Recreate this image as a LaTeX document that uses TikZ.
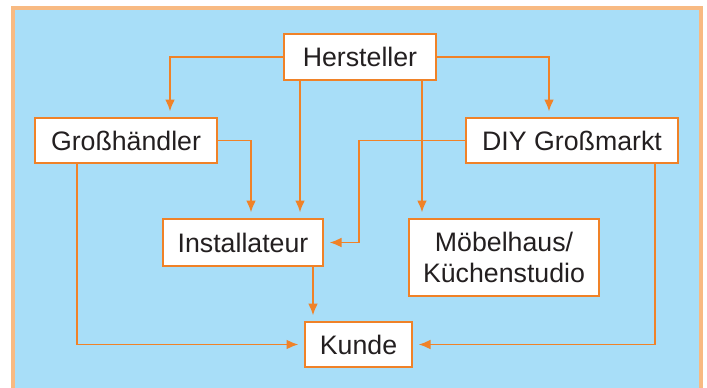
\documentclass[tikz,border=0pt]{standalone}
\usepackage{fontspec}
\setmainfont{Liberation Sans}
\usetikzlibrary{arrows.meta,positioning}

\definecolor{skyblue}{RGB}{168,222,248}
\definecolor{frameorange}{RGB}{248,186,130}
\definecolor{lineorange}{RGB}{240,130,40}
\definecolor{textgray}{RGB}{35,31,32}

\tikzset{
  box/.style={draw=lineorange, line width=1.3pt, fill=white, inner sep=0pt,
    align=center, text=textgray, font=\fontsize{19}{22}\selectfont},
  link/.style={draw=lineorange, line width=1.3pt, shorten >=4pt,
    -{Latex[length=8.5pt,width=7pt]}}
}

\begin{document}
\begin{tikzpicture}[x=0.025cm, y=-0.025cm]
			% frame
			\useasboundingbox (0,0) rectangle (707,387);
			\fill[white] (0,0) rectangle (707,387);
			\filldraw[fill=skyblue, draw=frameorange, line width=2.8pt] (13,8) rectangle (701,400);
			% boxes
			\node[box, minimum width=3.8cm, minimum height=1.15cm] (hersteller) at (360,57) {Hersteller};
			\node[box, minimum width=4.55cm, minimum height=1.125cm] (grosshaendler) at (126,140.5) {Großhändler};
			\node[box, minimum width=5.3cm, minimum height=1.125cm] (diy) at (572,140.5) {DIY Großmarkt};
			\node[box, minimum width=4cm, minimum height=1.175cm] (installateur) at (243,242.5) {Installateur};
			\node[box, minimum width=4.75cm, minimum height=1.925cm] (moebel) at (504,257.5) {Möbelhaus/\\Küchenstudio};
			\node[box, minimum width=2.675cm, minimum height=1.125cm] (kunde) at (358.5,344.5) {Kunde};
			% connectors
			\draw[link] (hersteller.west) -| ([xshift=1.1cm]grosshaendler.north);
			\draw[link] (hersteller.east) -| ([xshift=-0.575cm]diy.north);
			\draw[link] ([xshift=-1.5cm]hersteller.south) -- ([xshift=1.425cm]installateur.north);
			\draw[link] ([xshift=1.55cm]hersteller.south) -- ([xshift=-2.05cm]moebel.north);
			\draw[link] (grosshaendler.east) -| ([xshift=0.2cm]installateur.north);
			\draw[link] (diy.west) -| ([xshift=0.875cm]installateur.east) -- (installateur.east);
			\draw[link] ([xshift=-1.225cm]grosshaendler.south) |- (kunde.west);
			\draw[link] ([xshift=2.075cm]diy.south) |- (kunde.east);
			\draw[link] ([xshift=1.75cm]installateur.south) -- ([xshift=-1.1375cm]kunde.north);
		\end{tikzpicture}
\end{document}
